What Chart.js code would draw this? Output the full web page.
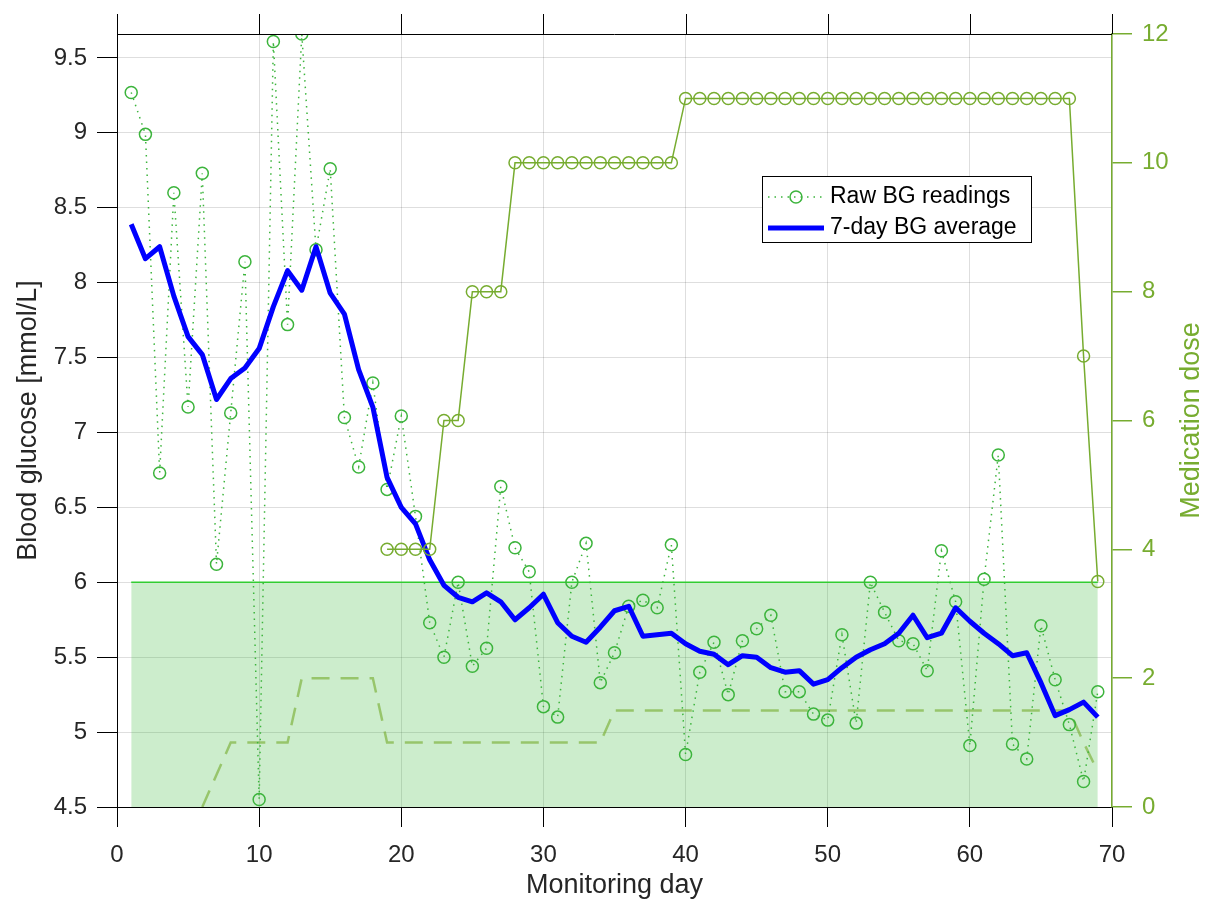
<!DOCTYPE html>
<html>
<head>
<meta charset="utf-8">
<script src="https://cdn.jsdelivr.net/npm/chart.js@4/dist/chart.umd.min.js"></script>
<style>
  html, body { margin: 0; padding: 0; background: #fff; }
  canvas { display: block; }
</style>
</head>
<body>
<canvas id="bgChart" width="1209" height="904"></canvas>
<script>
// --- data ---
const days = [1, 2, 3, 4, 5, 6, 7, 8, 9, 10, 11, 12, 13, 14, 15, 16, 17, 18, 19, 20,
    21, 22, 23, 24, 25, 26, 27, 28, 29, 30, 31, 32, 33, 34, 35, 36, 37, 38, 39, 40,
    41, 42, 43, 44, 45, 46, 47, 48, 49, 50, 51, 52, 53, 54, 55, 56, 57, 58, 59, 60,
    61, 62, 63, 64, 65, 66, 67, 68, 69];

const rawBG = [9.27, 8.99, 6.73, 8.60, 7.17, 8.73, 6.12, 7.13, 8.14, 4.55,
    9.61, 7.72, 9.66, 8.22, 8.76, 7.10, 6.77, 7.33, 6.62, 7.11,
    6.44, 5.73, 5.50, 6.00, 5.44, 5.56, 6.64, 6.23, 6.07, 5.17,
    5.10, 6.00, 6.26, 5.33, 5.53, 5.84, 5.88, 5.83, 6.25, 4.85,
    5.40, 5.60, 5.25, 5.61, 5.69, 5.78, 5.27, 5.27, 5.12, 5.08,
    5.65, 5.06, 6.00, 5.80, 5.61, 5.59, 5.41, 6.21, 5.87, 4.91,
    6.02, 6.85, 4.92, 4.82, 5.71, 5.35, 5.05, 4.67, 5.27];

const avgBG = [8.39, 8.16, 8.24, 7.91, 7.64, 7.52, 7.22, 7.36, 7.43, 7.56,
    7.84, 8.08, 7.95, 8.24, 7.93, 7.79, 7.42, 7.17, 6.70, 6.50,
    6.39, 6.15, 5.98, 5.90, 5.87, 5.93, 5.87, 5.75, 5.83, 5.92,
    5.73, 5.64, 5.60, 5.70, 5.81, 5.84, 5.64, 5.65, 5.66, 5.59,
    5.54, 5.52, 5.45, 5.51, 5.50, 5.43, 5.40, 5.41, 5.32, 5.35,
    5.43, 5.50, 5.55, 5.59, 5.66, 5.78, 5.63, 5.66, 5.83, 5.74,
    5.66, 5.59, 5.51, 5.53, 5.33, 5.11, 5.15, 5.20, 5.10];

// medication dose (right axis), logged from day 19
const doseDays = [19, 20, 21, 22, 23, 24, 25, 26, 27, 28, 29, 30, 31, 32, 33, 34, 35, 36, 37, 38,
    39, 40, 41, 42, 43, 44, 45, 46, 47, 48, 49, 50, 51, 52, 53, 54, 55, 56, 57, 58,
    59, 60, 61, 62, 63, 64, 65, 66, 67, 68, 69];
const dose = [4, 4, 4, 4, 6, 6, 8, 8, 8, 10, 10, 10, 10, 10, 10, 10, 10, 10, 10, 10,
    10, 11, 11, 11, 11, 11, 11, 11, 11, 11, 11, 11, 11, 11, 11, 11, 11, 11, 11, 11,
    11, 11, 11, 11, 11, 11, 11, 11, 11, 7, 3.5];

// second (dashed) dose trace
const dashDays = [6, 7, 8, 9, 10, 11, 12, 13, 14, 15, 16, 17, 18, 19, 20, 21, 22, 23, 24, 25,
    26, 27, 28, 29, 30, 31, 32, 33, 34, 35, 36, 37, 38, 39, 40, 41, 42, 43, 44, 45,
    46, 47, 48, 49, 50, 51, 52, 53, 54, 55, 56, 57, 58, 59, 60, 61, 62, 63, 64, 65,
    66, 67, 68, 69];
const dashDose = [0, 0.5, 1, 1, 1, 1, 1, 2, 2, 2, 2, 2, 2, 1, 1, 1, 1, 1, 1, 1,
    1, 1, 1, 1, 1, 1, 1, 1, 1, 1.5, 1.5, 1.5, 1.5, 1.5, 1.5, 1.5, 1.5, 1.5, 1.5, 1.5,
    1.5, 1.5, 1.5, 1.5, 1.5, 1.5, 1.5, 1.5, 1.5, 1.5, 1.5, 1.5, 1.5, 1.5, 1.5, 1.5, 1.5, 1.5, 1.5, 1.5,
    1.5, 1.5, 1.0, 0.55];

// target band
const targetDays = [1, 69];
const targetUpper = [6, 6];
const targetLower = 4.5;

// tick labels
const xTicks = [0, 10, 20, 30, 40, 50, 60, 70];
const bgTicks = [4.5, 5, 5.5, 6, 6.5, 7, 7.5, 8, 8.5, 9, 9.5];
const doseTicks = [0, 2, 4, 6, 8, 10, 12];

// --- styling ---
const FONT = "'Liberation Sans', Arial, Helvetica, sans-serif";
const TXT = '#262626';
const OLIVE = 'rgb(119,172,48)';
const RAW_GREEN = 'rgb(60,180,60)';
const GRID = 'rgba(0,0,0,0.13)';

const pts = (xs, ys) => xs.map((x, i) => ({ x: x, y: ys[i] }));

const framePlugin = {
    id: 'frame',
    afterDraw(chart) {
        const { ctx, chartArea: a, scales } = chart;
        const x = scales.x;
        ctx.save();

        // top box edge with outward ticks
        ctx.strokeStyle = '#000';
        ctx.lineWidth = 1;
        ctx.beginPath();
        ctx.moveTo(a.left, Math.round(a.top) + 0.5);
        ctx.lineTo(a.right, Math.round(a.top) + 0.5);
        xTicks.forEach(v => {
            const px = Math.round(x.getPixelForValue(v)) + 0.5;
            ctx.moveTo(px, a.top);
            ctx.lineTo(px, a.top - 20);
        });
        ctx.stroke();

        // right axis title (reads bottom to top, like MATLAB)
        ctx.save();
        ctx.translate(1192, (a.top + a.bottom) / 2);
        ctx.rotate(-Math.PI / 2);
        ctx.font = '27px ' + FONT;
        ctx.fillStyle = OLIVE;
        ctx.textAlign = 'center';
        ctx.textBaseline = 'middle';
        ctx.fillText('Medication dose', 0, 0);
        ctx.restore();

        // legend box
        const lx = 762, ly = 176, lw = 269, lh = 66;
        ctx.fillStyle = '#fff';
        ctx.fillRect(lx, ly, lw, lh);
        ctx.strokeStyle = '#000';
        ctx.lineWidth = 1;
        ctx.strokeRect(lx + 0.5, ly + 0.5, lw, lh);

        const r1 = ly + 21, r2 = ly + 52;
        ctx.strokeStyle = RAW_GREEN;
        ctx.lineWidth = 1.5;
        ctx.setLineDash([1.5, 5]);
        ctx.beginPath();
        ctx.moveTo(768, r1);
        ctx.lineTo(824, r1);
        ctx.stroke();
        ctx.setLineDash([]);
        ctx.beginPath();
        ctx.arc(796, r1, 6, 0, Math.PI * 2);
        ctx.stroke();

        ctx.strokeStyle = '#0000ff';
        ctx.lineWidth = 5;
        ctx.beginPath();
        ctx.moveTo(768, r2);
        ctx.lineTo(824, r2);
        ctx.stroke();

        ctx.fillStyle = '#000';
        ctx.font = '23px ' + FONT;
        ctx.textAlign = 'left';
        ctx.textBaseline = 'middle';
        ctx.fillText('Raw BG readings', 830, r1);
        ctx.fillText('7-day BG average', 830, r2);

        ctx.restore();
    }
};

const ctx = document.getElementById('bgChart').getContext('2d');
new Chart(ctx, {
    type: 'line',
    data: {
        datasets: [
            {
                label: 'Target range',
                data: pts(targetDays, targetUpper),
                yAxisID: 'y',
                borderColor: 'rgb(50,205,50)',
                borderWidth: 1.5,
                backgroundColor: 'rgba(40,180,40,0.24)',
                fill: { value: targetLower },
                pointRadius: 0,
                order: 10
            },
            {
                label: 'Dose (dashed)',
                data: pts(dashDays, dashDose),
                yAxisID: 'y1',
                borderColor: 'rgba(119,172,48,0.62)',
                borderWidth: 2.5,
                borderDash: [18, 11],
                pointRadius: 0,
                fill: false,
                order: 8
            },
            {
                label: 'Raw BG readings',
                data: pts(days, rawBG),
                yAxisID: 'y',
                borderColor: RAW_GREEN,
                borderWidth: 1.5,
                borderDash: [1.5, 5],
                pointStyle: 'circle',
                pointRadius: 6,
                pointBorderWidth: 1.5,
                pointBorderColor: RAW_GREEN,
                pointBackgroundColor: 'rgba(0,0,0,0)',
                fill: false,
                order: 6
            },
            {
                label: '7-day BG average',
                data: pts(days, avgBG),
                yAxisID: 'y',
                borderColor: '#0000ff',
                borderWidth: 5,
                borderJoinStyle: 'round',
                pointRadius: 0,
                fill: false,
                order: 4
            },
            {
                label: 'Medication dose',
                data: pts(doseDays, dose),
                yAxisID: 'y1',
                borderColor: OLIVE,
                borderWidth: 1.5,
                pointStyle: 'circle',
                pointRadius: 6,
                pointBorderWidth: 1.5,
                pointBorderColor: OLIVE,
                pointBackgroundColor: 'rgba(0,0,0,0)',
                fill: false,
                order: 2
            }
        ]
    },
    options: {
        responsive: false,
        animation: false,
        layout: { padding: { top: 34, left: 0, right: 0, bottom: 0 } },
        plugins: { legend: { display: false }, tooltip: { enabled: false } },
        scales: {
            x: {
                type: 'linear',
                min: 0,
                max: 70,
                afterBuildTicks: s => { s.ticks = xTicks.map(v => ({ value: v })); },
                afterFit: s => { s.height = 97; },
                grid: { color: GRID, tickColor: '#000', tickLength: 20, lineWidth: 1 },
                border: { color: '#000', width: 1 },
                ticks: { font: { family: FONT, size: 24 }, color: TXT, padding: 14, maxRotation: 0, callback: v => String(v) },
                title: { display: true, text: 'Monitoring day', color: TXT, font: { family: FONT, size: 27 }, padding: { top: 0, bottom: 2 } }
            },
            y: {
                position: 'left',
                min: 4.5,
                max: 9.66,
                afterBuildTicks: s => { s.ticks = bgTicks.map(v => ({ value: v })); },
                afterFit: s => { s.width = 117; },
                grid: { color: GRID, tickColor: '#000', tickLength: 20, lineWidth: 1 },
                border: { color: '#000', width: 1 },
                ticks: { font: { family: FONT, size: 24 }, color: TXT, padding: 10, callback: v => String(v) },
                title: { display: true, text: 'Blood glucose [mmol/L]', color: TXT, font: { family: FONT, size: 27 }, padding: { top: 12, bottom: 0 } }
            },
            y1: {
                position: 'right',
                min: 0,
                max: 12,
                afterBuildTicks: s => { s.ticks = doseTicks.map(v => ({ value: v })); },
                afterFit: s => { s.width = 97; },
                grid: { drawOnChartArea: false, tickColor: OLIVE, tickLength: 20, lineWidth: 1.5 },
                border: { color: OLIVE, width: 1.5 },
                ticks: { font: { family: FONT, size: 24 }, color: OLIVE, padding: 10, callback: v => String(v) },
                title: { display: false }
            }
        }
    },
    plugins: [framePlugin]
});
</script>
</body>
</html>
